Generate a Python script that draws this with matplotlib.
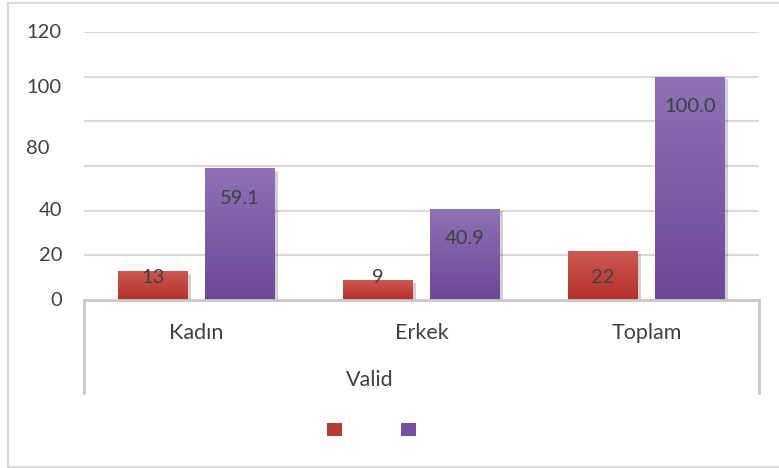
import matplotlib
matplotlib.use("Agg")
import matplotlib.pyplot as plt
import matplotlib.transforms as mtransforms
import numpy as np
from matplotlib.colors import LinearSegmentedColormap
from matplotlib.patches import Patch
from matplotlib.lines import Line2D
import matplotlib.patheffects as pe

# ---- data ----
categories = ["Kadın", "Erkek", "Toplam"]
group_label = "Valid"
frequency = [13, 9, 22]
percent = [59.1, 40.9, 100.0]
freq_labels = ["13", "9", "22"]
pct_labels = ["59.1", "40.9", "100.0"]
ytick_texts = ["0", "20", "40", "80", "100", "120"]
ytick_pos = [0, 20, 40, 68, 95, 120]   # where the labels sit in the source picture
ytick_left_aligned = [False, False, False, True, True, True]

plt.rcParams['font.family'] = ['Lato', 'DejaVu Sans']
TXT = "#404040"
FS = 14.5
FS_CAT = 15.5

W, H = 779, 468
fig = plt.figure(figsize=(W / 100, H / 100), dpi=100)
ax = fig.add_axes([84 / W, (H - 300) / H, 675 / W, 268 / H])

x = np.arange(len(categories))
bw = 0.31
off = 0.194

red_top, red_bot = "#CD5A54", "#B5302C"
pur_top, pur_bot = "#8E72B5", "#6C4898"

shadow = [pe.SimplePatchShadow(offset=(2, -2), shadow_rgbFace="#000000", alpha=0.18), pe.Normal()]
b1 = ax.bar(x - off, frequency, bw, color=red_bot, zorder=3, path_effects=shadow)
b2 = ax.bar(x + off, percent, bw, color=pur_bot, zorder=3, path_effects=shadow)

grad = np.linspace(0, 1, 256).reshape(-1, 1)
for bars, c0, c1 in ((b1, red_top, red_bot), (b2, pur_top, pur_bot)):
    cmap = LinearSegmentedColormap.from_list("g", [c0, c1])
    for r in bars:
        x0, y0 = r.get_x(), r.get_y()
        im = ax.imshow(grad, cmap=cmap, aspect="auto", zorder=3.5,
                       extent=(x0, x0 + r.get_width(), y0, y0 + r.get_height()),
                       origin="upper")
        im.set_clip_path(r)

ax.set_xlim(-0.5, len(categories) - 0.5)
ax.set_ylim(0, 120)

# gridlines
ax.set_yticks([20, 40, 60, 80, 100, 120])
ax.yaxis.grid(True, color="#d9d9d9", linewidth=1.5, zorder=0)
ax.tick_params(axis="y", length=0, labelleft=False)
ax.tick_params(axis="x", length=0, labelbottom=False)
ax.set_axisbelow(True)
for s in ax.spines.values():
    s.set_visible(False)

# y tick labels (as placed in the source)
ytrans = mtransforms.blended_transform_factory(fig.transFigure, ax.transData)
for t, p, la in zip(ytick_texts, ytick_pos, ytick_left_aligned):
    xpix = 26 if la else 62
    ax.text(xpix / W, p, t, transform=ytrans,
            ha="left" if la else "right", va="center", fontsize=FS, color=TXT)

# category axis box
axc = "#c8c8c8"
drop = -93 / 268
ax.add_line(Line2D([0, 1], [0, 0], transform=ax.transAxes, color=axc, lw=2, clip_on=False, zorder=4))
ax.add_line(Line2D([0, 0], [0, drop], transform=ax.transAxes, color=axc, lw=2, clip_on=False))
ax.add_line(Line2D([1, 1], [0, drop], transform=ax.transAxes, color=axc, lw=2, clip_on=False))

for xi, c in zip(x, categories):
    ax.annotate(c, (xi, 0), xytext=(0, -33 * 0.72), textcoords="offset points",
                ha="center", va="center", fontsize=FS_CAT, color=TXT, annotation_clip=False)
ax.text(370 / W, (H - 380) / H, group_label, transform=fig.transFigure,
        ha="center", va="center", fontsize=FS_CAT, color=TXT)

# data labels
for xi, v, t in zip(x, frequency, freq_labels):
    ax.text(xi - off, 10, t, ha="center", va="center", fontsize=FS, color=TXT, zorder=6)
for xi, v, t in zip(x, percent, pct_labels):
    ax.annotate(t, (xi + off, v), xytext=(0, -30 * 0.72), textcoords="offset points",
                ha="center", va="center", fontsize=FS, color=TXT, zorder=6)

# legend (no text in source)
handles = [Patch(facecolor="#B83A35", edgecolor="none"), Patch(facecolor="#74509E", edgecolor="none")]
fig.legend(handles, ["", ""], ncol=2, loc="center", bbox_to_anchor=(371.5 / W, 1 - 430 / H),
           frameon=False, fontsize=10.5, handlelength=1.0, handleheight=1.0,
           handletextpad=0.0, columnspacing=4.1, borderpad=0)

# outer frame (left, top, bottom visible)
fc = "#d9d9d9"
fig.add_artist(Line2D([8 / W, 8 / W], [1 - 3 / H, 1 - 467 / H], transform=fig.transFigure, color=fc, lw=1.5))
fig.add_artist(Line2D([8 / W, 1], [1 - 3 / H, 1 - 3 / H], transform=fig.transFigure, color=fc, lw=1.5))
fig.add_artist(Line2D([8 / W, 1], [1 - 467 / H, 1 - 467 / H], transform=fig.transFigure, color=fc, lw=1.5))

fig.savefig("out.png", dpi=100)
